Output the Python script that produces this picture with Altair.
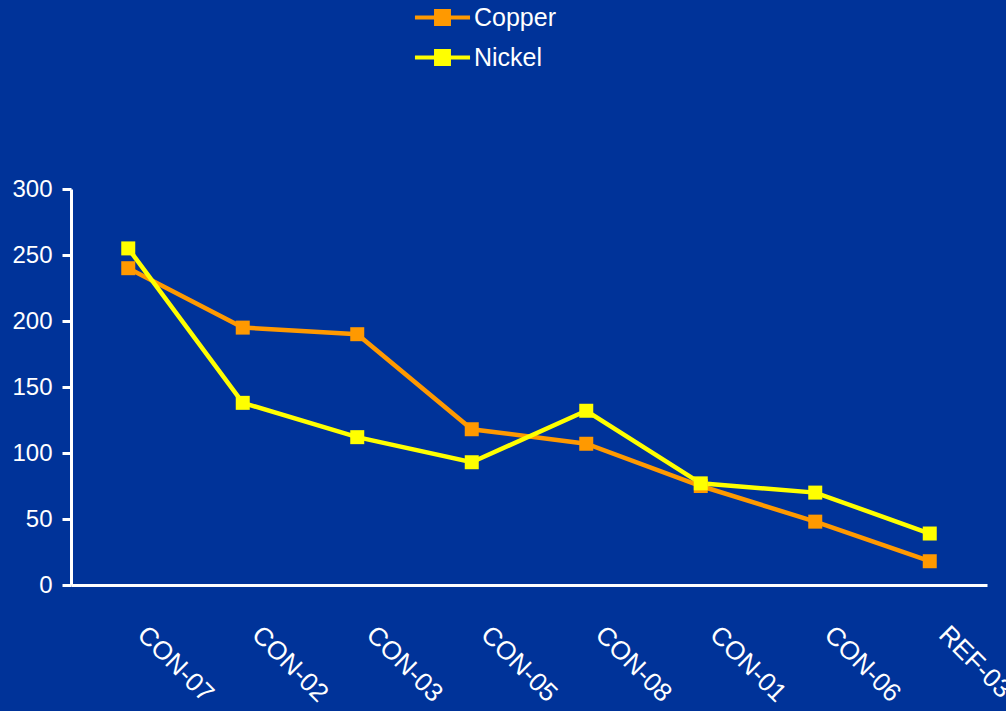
import altair as alt
import pandas as pd

# Sample sites along the x axis, in plotted order
samples = ["CON-07", "CON-02", "CON-03", "CON-05", "CON-08", "CON-01", "CON-06", "REF-03"]

# Measured concentrations per metal
copper = [240, 195, 190, 118, 107, 75, 48, 18]
nickel = [255, 138, 112, 93, 132, 77, 70, 39]

metals = ["Copper", "Nickel"]
metal_colors = ["#FF9900", "#FFFF00"]

# Y axis tick values
y_ticks = [0, 50, 100, 150, 200, 250, 300]

df = pd.DataFrame(
    {
        "sample": samples * 2,
        "metal": ["Copper"] * len(samples) + ["Nickel"] * len(samples),
        "value": copper + nickel,
    }
)

FONT = "Liberation Sans"
BG = "#003399"

# Legend symbol: a short line with a filled square in the middle
legend_symbol = "M-3.24,0L3.24,0M-0.76,-0.76L0.76,-0.76L0.76,0.76L-0.76,0.76Z"

chart = (
    alt.Chart(df)
    .mark_line(
        strokeWidth=4.5,
        point=alt.OverlayMarkDef(shape="square", filled=True, size=196, opacity=1),
    )
    .encode(
        x=alt.X(
            "sample:N",
            sort=samples,
            scale=alt.Scale(type="point", padding=0.5),
            axis=alt.Axis(
                title=None,
                ticks=False,
                grid=False,
                domainColor="white",
                domainWidth=3,
                labelColor="white",
                labelFont=FONT,
                labelFontSize=26,
                labelAngle=45,
                labelAlign="left",
                labelBaseline="middle",
                labelPadding=45,
                labelOffset=13,
                labelOverlap=False,
                labelBound=False,
            ),
        ),
        y=alt.Y(
            "value:Q",
            scale=alt.Scale(domain=[0, 300], nice=False, zero=True),
            axis=alt.Axis(
                title=None,
                values=y_ticks,
                grid=False,
                domainColor="white",
                domainWidth=3,
                tickColor="white",
                tickWidth=3,
                tickSize=9,
                labelColor="white",
                labelFont=FONT,
                labelFontSize=24,
                labelPadding=10,
            ),
        ),
        color=alt.Color(
            "metal:N",
            scale=alt.Scale(domain=metals, range=metal_colors),
            legend=alt.Legend(
                title=None,
                orient="none",
                legendX=359,
                legendY=-184,
                padding=0,
                symbolType=legend_symbol,
                symbolSize=289,
                symbolStrokeWidth=4,
                symbolOpacity=1,
                labelColor="white",
                labelFont=FONT,
                labelFontSize=25,
                labelOffset=19,
                rowPadding=11,
            ),
        ),
    )
    .properties(
        width=916,
        height=396,
        background=BG,
        padding={"left": 71, "top": 189, "right": 19, "bottom": 126},
        autosize=alt.AutoSizeParams(type="none"),
    )
    .configure_view(stroke=None)
)

chart.save("out.html", embed_options={"renderer": "svg", "actions": False})
